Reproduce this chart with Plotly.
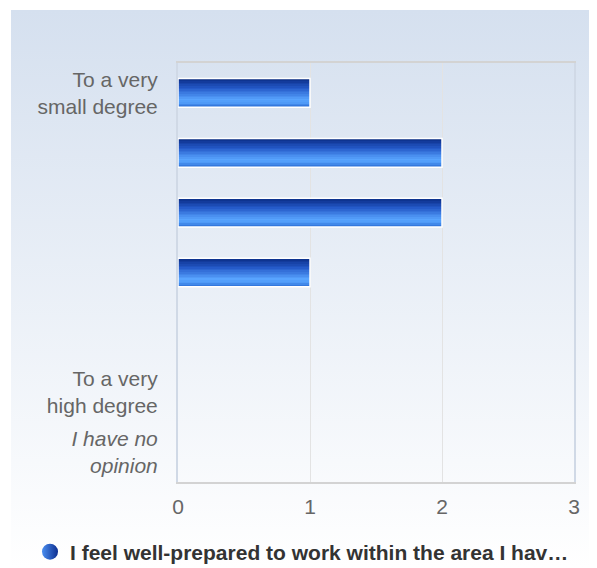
import base64
import plotly.graph_objects as go

# ---- data ----
categories = ["To a very<br>small degree", "", "", "", "", "To a very<br>high degree", "<i>I have no<br>opinion</i>"]
values = [1, 2, 2, 1, 0, 0, 0]
series_name = "I feel well-prepared to work within the area I hav…"
x_ticks = [0, 1, 2, 3]

positions = list(range(len(categories)))

# ---- styling ----
W, H = 597, 568
OFF = 8  # page body margin
L, T = 178 - OFF, 63 - OFF
R = W - (574 - OFF)
B = H - (482 - OFF)
plot_w = W - L - R
plot_h = H - T - B

stops = [(0.0, (7, 40, 127)), (0.35, (36, 89, 200)), (0.75, (88, 164, 255)),
         (0.86, (79, 154, 247)), (1.0, (45, 111, 214))]


def grad(t):
    for (t0, c0), (t1, c1) in zip(stops[:-1], stops[1:]):
        if t0 <= t <= t1:
            f = (t - t0) / (t1 - t0) if t1 > t0 else 0
            return "rgb(%d,%d,%d)" % tuple(round(a + (b - a) * f) for a, b in zip(c0, c1))
    return "rgb(%d,%d,%d)" % stops[-1][1]


bar_w = 0.48
N = 18
h = bar_w / N

fig = go.Figure()
for i in range(N):
    fig.add_trace(go.Bar(
        x=values, y=positions, orientation="h",
        width=h * 1.02, offset=-bar_w / 2 + i * h,
        marker=dict(color=grad((i + 0.5) / N), line=dict(width=0)),
        showlegend=False, hoverinfo="skip",
    ))
# white outline
fig.add_trace(go.Bar(
    x=[v if v else None for v in values], y=positions, orientation="h",
    width=bar_w, offset=-bar_w / 2,
    marker=dict(color="rgba(0,0,0,0)", line=dict(color="white", width=1.5)),
    showlegend=False, hoverinfo="skip",
))
# legend entry
fig.add_trace(go.Scatter(
    x=[None], y=[None], mode="markers", name=series_name,
    marker=dict(symbol="circle", size=18, color="#4a8ef0",
                gradient=dict(type="horizontal", color="#0d2f90")),
))

bg_x0, bg_y0 = 11 - OFF, 10 - OFF
bg_w, bg_h = 586, 558
svg = (f"<svg xmlns='http://www.w3.org/2000/svg' width='{bg_w}' height='{bg_h}'>"
       "<defs><linearGradient id='g' x1='0' y1='0' x2='0' y2='1'>"
       "<stop offset='0' stop-color='#d5e0ef'/><stop offset='1' stop-color='#ffffff'/>"
       f"</linearGradient></defs><rect width='{bg_w}' height='{bg_h}' fill='url(#g)'/></svg>")
src = "data:image/svg+xml;base64," + base64.b64encode(svg.encode()).decode()

leg_left = 30 - OFF
leg_cy = 552 - OFF

fig.update_layout(
    width=W, height=H,
    margin=dict(l=L, r=R, t=T, b=B, autoexpand=False),
    paper_bgcolor="white", plot_bgcolor="rgba(0,0,0,0)",
    barmode="overlay",
    font=dict(family="Liberation Sans, Arial, sans-serif", size=21, color="#666666"),
    images=[dict(source=src, xref="paper", yref="paper",
                 x=(bg_x0 - L) / plot_w, y=(H - B - bg_y0) / plot_h,
                 sizex=bg_w / plot_w, sizey=bg_h / plot_h,
                 xanchor="left", yanchor="top", sizing="stretch", layer="below")],
    xaxis=dict(range=[0, 3], tickvals=x_ticks, showgrid=True, gridcolor="#e3e3e3",
               gridwidth=1, zeroline=False, showline=True, linecolor="#d3d3d3",
               linewidth=2, mirror=True, ticks="", ticklabelstandoff=5,
               tickfont=dict(size=21, color="#666666")),
    yaxis=dict(tickvals=positions, ticktext=categories, range=[len(categories) - 0.5, -0.5],
               showgrid=False, zeroline=False, showline=True, linecolor="#d0d9e6",
               linewidth=2, mirror=True, ticks="", ticklabelstandoff=14,
               tickfont=dict(size=21, color="#666666")),
    legend=dict(orientation="h", x=(leg_left - L) / plot_w, xanchor="left",
                y=-(leg_cy - (H - B)) / plot_h, yanchor="middle",
                bgcolor="rgba(0,0,0,0)",
                font=dict(size=21, color="#333333", weight="bold")),
)

fig.write_html("out.html")
